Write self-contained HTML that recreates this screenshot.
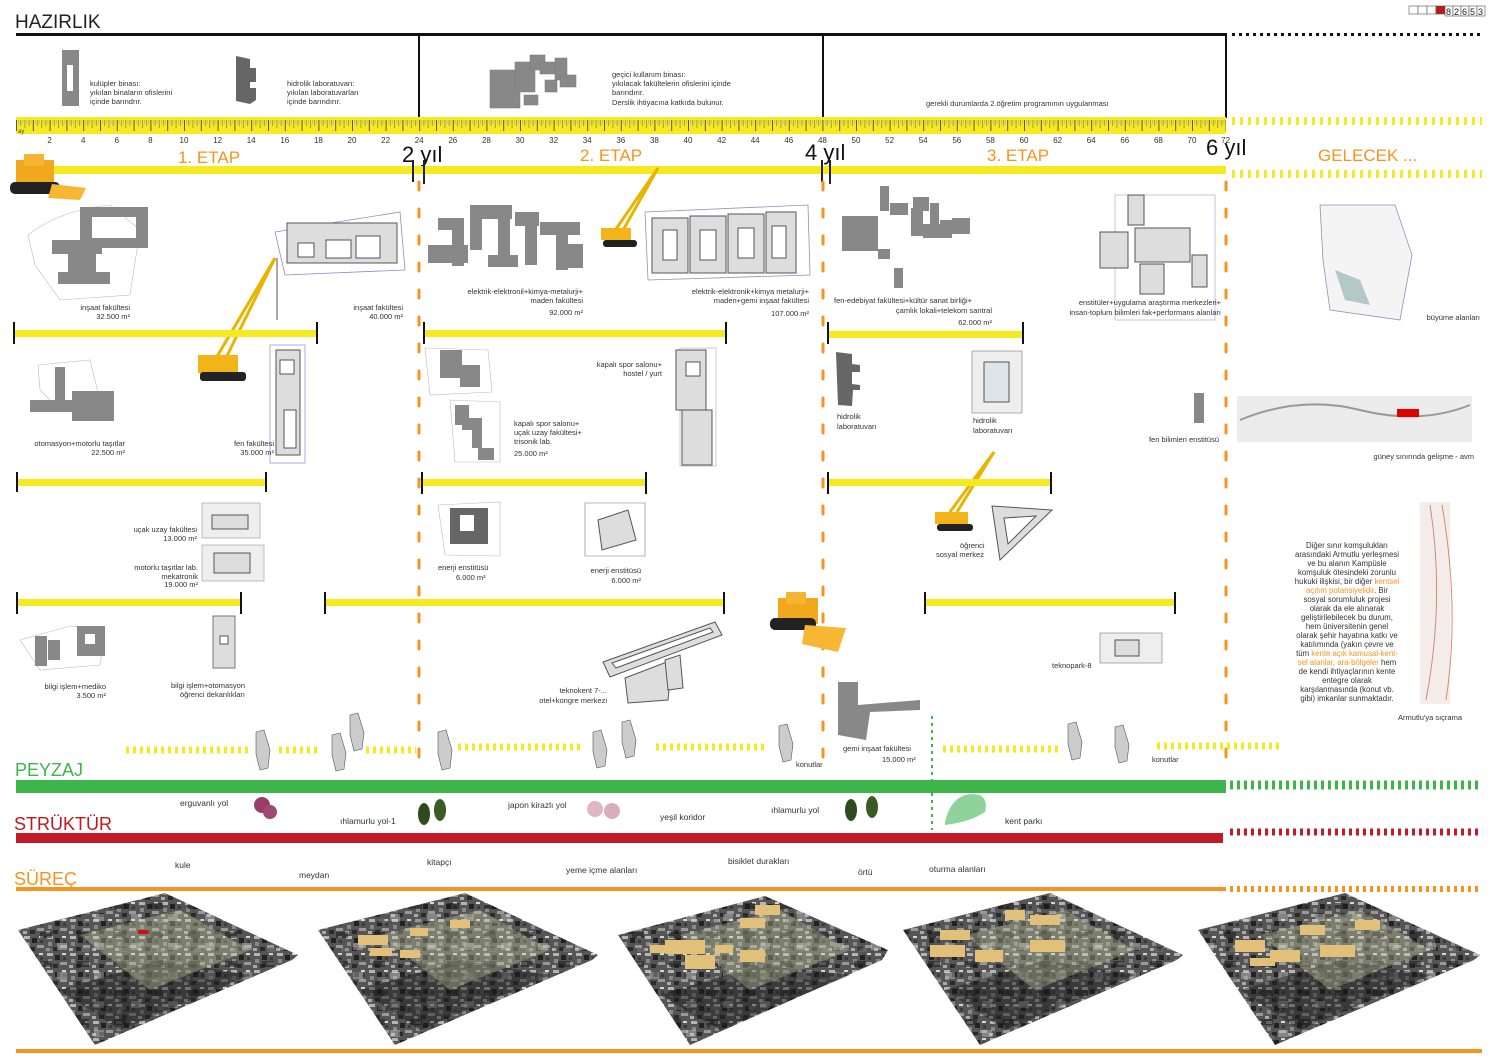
<!DOCTYPE html>
<html><head><meta charset="utf-8"><style>
html,body{margin:0;padding:0;background:#fff}
svg{display:block}
text{font-family:"Liberation Sans",sans-serif;fill:#333}
.s{font-size:7.5px}
.n{font-size:8px;fill:#444}
.e{font-size:17px;fill:#f7931e}
.y{font-size:22px;fill:#111}
.g{fill:#888;stroke:#777;stroke-width:.5}
.ln{fill:none;stroke:#bbb;stroke-width:.6}
</style></head><body>
<svg width="1500" height="1061" viewBox="0 0 1500 1061" xmlns="http://www.w3.org/2000/svg">
<defs>
<pattern id="tk" x="16" y="0" width="16.8" height="20" patternUnits="userSpaceOnUse">
<rect width="16.8" height="20" fill="#f5ea1f"/>
<line x1="0.5" y1="0" x2="0.5" y2="11" stroke="#555" stroke-width="1"/>
<line x1="4.7" y1="0" x2="4.7" y2="6" stroke="#777" stroke-width=".7"/>
<line x1="8.9" y1="0" x2="8.9" y2="8" stroke="#777" stroke-width=".7"/>
<line x1="13.1" y1="0" x2="13.1" y2="6" stroke="#777" stroke-width=".7"/>
<line x1="2.6" y1="0" x2="2.6" y2="4" stroke="#999" stroke-width=".5"/>
<line x1="6.8" y1="0" x2="6.8" y2="4" stroke="#999" stroke-width=".5"/>
<line x1="11" y1="0" x2="11" y2="4" stroke="#999" stroke-width=".5"/>
<line x1="15.2" y1="0" x2="15.2" y2="4" stroke="#999" stroke-width=".5"/>
</pattern>
<pattern id="ph" width="23" height="17" patternUnits="userSpaceOnUse">
<rect width="23" height="17" fill="#555"/>
<rect x="1" y="1" width="6" height="3" fill="#b5b5b5"/>
<rect x="9" y="3" width="5" height="5" fill="#222"/>
<rect x="2" y="7" width="4" height="4" fill="#888"/>
<rect x="16" y="1" width="4" height="2" fill="#d5d5d5"/>
<rect x="14" y="10" width="7" height="3" fill="#999"/>
<rect x="7" y="12" width="5" height="4" fill="#2a2a2a"/>
<rect x="17" y="5" width="3" height="3" fill="#3a3a3a"/>
<rect x="0" y="13" width="4" height="3" fill="#aaa"/>
</pattern>
<pattern id="ph2" width="37" height="29" patternUnits="userSpaceOnUse">
<rect x="3" y="4" width="12" height="6" fill="#151515" opacity=".5"/>
<rect x="20" y="15" width="10" height="7" fill="#ddd" opacity=".35"/>
<rect x="8" y="20" width="8" height="4" fill="#777" opacity=".5"/>
</pattern>
</defs>

<g stroke="#555" stroke-width=".6" fill="#fff">
<rect x="1409" y="6" width="9" height="8"/><rect x="1418" y="6" width="9" height="8"/><rect x="1427" y="6" width="9" height="8"/>
<rect x="1436" y="6" width="9" height="8" fill="#c4161c"/>
<rect x="1445" y="6" width="8" height="10"/><rect x="1453" y="6" width="8" height="10"/><rect x="1461" y="6" width="8" height="10"/><rect x="1469" y="6" width="8" height="10"/><rect x="1477" y="6" width="8" height="10"/>
</g>
<text x="1446" y="15" style="font-size:9px;fill:#222">8</text><text x="1454" y="15" style="font-size:9px;fill:#222">2</text><text x="1462" y="15" style="font-size:9px;fill:#222">6</text><text x="1470" y="15" style="font-size:9px;fill:#222">5</text><text x="1478" y="15" style="font-size:9px;fill:#222">3</text>

<text x="15" y="28" style="font-size:19px;fill:#222">HAZIRLIK</text>
<rect x="16" y="33" width="1211" height="3" fill="#111"/>
<line x1="1232" y1="34.5" x2="1482" y2="34.5" stroke="#111" stroke-width="3" stroke-dasharray="3,4"/>
<rect x="418" y="35" width="2" height="83" fill="#111"/>
<rect x="822" y="35" width="2" height="83" fill="#111"/>
<rect x="1225" y="35" width="2" height="83" fill="#111"/>

<rect x="62" y="50" width="17" height="56" fill="#888"/><rect x="67" y="65" width="6" height="26" fill="#fff"/>
<text class="s" x="90" y="86">kulüpler binası:</text><text class="s" x="90" y="95">yıkılan binaların ofislerini</text><text class="s" x="90" y="104">içinde barındrır.</text>
<path d="M236 56 L250 59 L250 68 L256 68 L256 82 L250 82 L250 88 L256 88 L256 100 L250 104 L236 101 Z" fill="#666"/>
<text class="s" x="287" y="86">hidrolik laboratuvarı:</text><text class="s" x="287" y="95">yıkılan laboratuvarları</text><text class="s" x="287" y="104">içinde barındırır.</text>
<g class="g"><rect x="490" y="70" width="30" height="38"/><rect x="515" y="62" width="20" height="30"/><rect x="530" y="55" width="15" height="15"/><rect x="540" y="62" width="20" height="12"/><rect x="555" y="58" width="12" height="22"/><rect x="560" y="75" width="16" height="12"/><rect x="545" y="80" width="12" height="12"/><rect x="524" y="95" width="14" height="10"/></g>
<text class="s" x="612" y="77">geçici kullanım binası:</text><text class="s" x="612" y="86">yıkılacak fakültelerin ofislerini içinde</text><text class="s" x="612" y="95">barındırır.</text><text class="s" x="612" y="105">Derslik ihtiyacına katkıda bulunur.</text>
<text class="s" x="926" y="106">gerekli durumlarda 2.öğretim programının uygulanması</text>

<rect x="16" y="117" width="1210" height="17" fill="url(#tk)"/>
<line x1="1232" y1="121" x2="1482" y2="121" stroke="#f5ea1f" stroke-width="8" stroke-dasharray="3,5"/>
<text class="n" x="18" y="133" style="font-size:6px">ay</text>
<g class="n" text-anchor="middle">
<text x="49.6" y="143">2</text><text x="83.2" y="143">4</text><text x="116.8" y="143">6</text><text x="150.4" y="143">8</text><text x="184" y="143">10</text><text x="217.6" y="143">12</text><text x="251.2" y="143">14</text><text x="284.8" y="143">16</text><text x="318.4" y="143">18</text><text x="352" y="143">20</text><text x="385.6" y="143">22</text><text x="419.2" y="143">24</text><text x="452.8" y="143">26</text><text x="486.4" y="143">28</text><text x="520" y="143">30</text><text x="553.6" y="143">32</text><text x="587.2" y="143">34</text><text x="620.8" y="143">36</text><text x="654.4" y="143">38</text><text x="688" y="143">40</text><text x="721.6" y="143">42</text><text x="755.2" y="143">44</text><text x="788.8" y="143">46</text><text x="822.4" y="143">48</text><text x="856" y="143">50</text><text x="889.6" y="143">52</text><text x="923.2" y="143">54</text><text x="956.8" y="143">56</text><text x="990.4" y="143">58</text><text x="1024" y="143">60</text><text x="1057.6" y="143">62</text><text x="1091.2" y="143">64</text><text x="1124.8" y="143">66</text><text x="1158.4" y="143">68</text><text x="1192" y="143">70</text><text x="1225.6" y="143">72</text>
</g>

<text class="e" x="178" y="163">1. ETAP</text>
<text class="e" x="580" y="161">2. ETAP</text>
<text class="e" x="987" y="161">3. ETAP</text>
<text class="e" x="1318" y="161">GELECEK ...</text>
<text class="y" x="402" y="162">2 yıl</text>
<text class="y" x="805" y="160">4 yıl</text>
<text class="y" x="1206" y="155">6 yıl</text>
<rect x="16" y="166" width="1210" height="8" fill="#f5ea1f"/>
<line x1="1232" y1="174" x2="1482" y2="174" stroke="#f5ea1f" stroke-width="8" stroke-dasharray="3,5"/>
<rect x="412" y="160" width="2" height="22" fill="#222"/><rect x="423" y="160" width="2" height="24" fill="#222"/>
<rect x="821" y="160" width="2" height="22" fill="#222"/><rect x="829" y="160" width="2" height="24" fill="#222"/>

<g stroke="#f7931e" stroke-width="3" stroke-dasharray="8,19" stroke-linecap="round">
<line x1="419" y1="182" x2="419" y2="772"/><line x1="823" y1="182" x2="823" y2="772"/><line x1="1226" y1="182" x2="1226" y2="772"/>
</g>

<g><rect x="16" y="160" width="38" height="26" fill="#f2a81d"/><rect x="24" y="154" width="20" height="12" fill="#f5b531"/><rect x="10" y="182" width="50" height="12" rx="5" fill="#222"/><polygon points="52,184 86,188 80,200 48,198" fill="#f7b733"/></g>
<g><rect x="778" y="598" width="40" height="26" fill="#f2a81d"/><rect x="786" y="592" width="20" height="12" fill="#f5b531"/><rect x="770" y="618" width="46" height="12" rx="5" fill="#222"/><polygon points="805,625 846,628 838,652 802,644" fill="#f7b733"/></g>
<g stroke="#e8b400" stroke-width="3" fill="none"><line x1="215" y1="360" x2="275" y2="258"/><line x1="225" y1="360" x2="275" y2="258"/><line x1="277" y1="258" x2="277" y2="320" stroke="#555" stroke-width="1"/></g>
<rect x="198" y="355" width="40" height="18" fill="#f2b418"/><rect x="200" y="372" width="46" height="9" rx="3" fill="#222"/>
<g stroke="#e8b400" stroke-width="3"><line x1="614" y1="232" x2="658" y2="168"/><line x1="622" y1="232" x2="658" y2="168"/></g>
<rect x="601" y="228" width="30" height="12" fill="#f2b418"/><rect x="603" y="240" width="34" height="7" rx="3" fill="#222"/>
<g stroke="#e8b400" stroke-width="3"><line x1="950" y1="512" x2="994" y2="452"/><line x1="957" y1="512" x2="994" y2="452"/></g>
<rect x="935" y="512" width="33" height="12" fill="#f2b418"/><rect x="937" y="524" width="36" height="7" rx="3" fill="#222"/>

<path class="ln" d="M28 235 Q60 210 110 205 L140 230 L130 295 L60 300 L35 265 Z"/>
<g fill="#888"><rect x="80" y="207" width="68" height="10"/><rect x="80" y="207" width="12" height="40"/><rect x="136" y="207" width="12" height="40"/><rect x="80" y="238" width="68" height="10"/><rect x="52" y="240" width="50" height="14"/><rect x="68" y="254" width="28" height="18"/><rect x="58" y="272" width="52" height="12"/></g>
<text class="s" x="130" y="310" text-anchor="end">inşaat fakültesi</text><text class="s" x="130" y="319" text-anchor="end">32.500 m²</text>
<path d="M275 232 L400 212 L405 270 L285 275 Z" fill="none" stroke="#8c8ccc" stroke-width=".8"/>
<rect x="287" y="223" width="110" height="40" fill="#ddd" stroke="#555"/><rect x="298" y="243" width="16" height="14" fill="#fff" stroke="#555"/><rect x="326" y="240" width="25" height="18" fill="#fff" stroke="#555"/><rect x="356" y="236" width="24" height="22" fill="#fff" stroke="#555"/>
<text class="s" x="403" y="310" text-anchor="end">inşaat fakültesi</text><text class="s" x="403" y="319" text-anchor="end">40.000 m²</text>
<rect x="14" y="330" width="303" height="7" fill="#f5ea1f"/><rect x="13" y="322" width="2" height="22" fill="#111"/><rect x="316" y="322" width="2" height="22" fill="#111"/>
<path class="ln" d="M38 365 L90 360 L100 400 L60 410 L40 390Z"/>
<g fill="#888"><rect x="55" y="367" width="10" height="40"/><rect x="30" y="400" width="45" height="12"/><rect x="72" y="391" width="42" height="30"/></g>
<text class="s" x="125" y="446" text-anchor="end">otomasyon+motorlu taşıtlar</text><text class="s" x="125" y="455" text-anchor="end">22.500 m²</text>
<rect x="270" y="345" width="35" height="118" fill="none" stroke="#8c8ccc" stroke-width=".7"/>
<rect x="276" y="350" width="24" height="105" fill="#ddd" stroke="#555"/><rect x="280" y="360" width="14" height="14" fill="#fff" stroke="#555"/><rect x="284" y="410" width="12" height="38" fill="#fff" stroke="#555"/>
<text class="s" x="274" y="446" text-anchor="end">fen fakültesi</text><text class="s" x="274" y="455" text-anchor="end">35.000 m²</text>
<rect x="16" y="479" width="251" height="7" fill="#f5ea1f"/><rect x="16" y="472" width="2" height="20" fill="#111"/><rect x="265" y="472" width="2" height="20" fill="#111"/>
<rect x="202" y="503" width="58" height="35" fill="#eee" stroke="#999" stroke-width=".6"/><rect x="212" y="515" width="36" height="14" fill="#ddd" stroke="#555"/>
<text class="s" x="197" y="532" text-anchor="end">uçak uzay fakültesi</text><text class="s" x="197" y="541" text-anchor="end">13.000 m²</text>
<rect x="202" y="545" width="62" height="36" fill="#eee" stroke="#999" stroke-width=".6"/><rect x="214" y="553" width="36" height="20" fill="#ddd" stroke="#555"/>
<text class="s" x="198" y="570" text-anchor="end">motorlu taşıtlar lab.</text><text class="s" x="198" y="579" text-anchor="end">mekatronik</text><text class="s" x="198" y="587" text-anchor="end">19.000 m²</text>
<rect x="16" y="599" width="226" height="7" fill="#f5ea1f"/><rect x="16" y="592" width="2" height="22" fill="#111"/><rect x="240" y="592" width="2" height="22" fill="#111"/>
<rect x="325" y="599" width="400" height="7" fill="#f5ea1f"/><rect x="324" y="592" width="2" height="22" fill="#111"/><rect x="723" y="592" width="2" height="22" fill="#111"/>
<path class="ln" d="M20 640 L70 626 L105 630 L100 665 L40 670Z"/>
<g fill="#888"><rect x="35" y="636" width="12" height="30"/><rect x="48" y="640" width="12" height="20"/><rect x="77" y="626" width="28" height="30"/></g><rect x="85" y="634" width="10" height="10" fill="#fff"/>
<text class="s" x="106" y="689" text-anchor="end">bilgi işlem+mediko</text><text class="s" x="106" y="698" text-anchor="end">3.500 m²</text>
<rect x="213" y="616" width="22" height="52" fill="#ddd" stroke="#777"/><rect x="220" y="636" width="8" height="8" fill="#fff" stroke="#555"/>
<text class="s" x="245" y="688" text-anchor="end">bilgi işlem+otomasyon</text><text class="s" x="245" y="697" text-anchor="end">öğrenci dekanlıkları</text>

<g fill="#888"><rect x="438" y="218" width="25" height="12"/><rect x="452" y="218" width="12" height="48"/><rect x="428" y="245" width="40" height="18"/><rect x="470" y="205" width="12" height="45"/><rect x="482" y="205" width="30" height="14"/><rect x="498" y="215" width="12" height="50"/><rect x="515" y="212" width="24" height="14"/><rect x="525" y="220" width="12" height="45"/><rect x="540" y="222" width="40" height="13"/><rect x="556" y="232" width="12" height="38"/><rect x="565" y="244" width="18" height="24"/><rect x="488" y="255" width="30" height="12"/></g>
<text class="s" x="583" y="294" text-anchor="end">elektrik-elektronil+kimya-metalurji+</text><text class="s" x="583" y="303" text-anchor="end">maden fakültesi</text><text class="s" x="583" y="315" text-anchor="end">92.000 m²</text>
<path d="M645 212 L808 205 L810 275 L648 280Z" fill="none" stroke="#9a8cbc" stroke-width=".8"/>
<g fill="#ddd" stroke="#555"><rect x="652" y="218" width="36" height="55"/><rect x="690" y="216" width="36" height="57"/><rect x="728" y="214" width="36" height="59"/><rect x="766" y="212" width="30" height="61"/></g>
<g fill="#fff" stroke="#555"><rect x="663" y="230" width="14" height="30"/><rect x="700" y="230" width="16" height="30"/><rect x="738" y="228" width="16" height="30"/><rect x="772" y="226" width="14" height="32"/></g>
<text class="s" x="809" y="294" text-anchor="end">elektrik-elektronik+kimya metalurji+</text><text class="s" x="809" y="303" text-anchor="end">maden+gemi inşaat fakültesi</text><text class="s" x="809" y="316" text-anchor="end">107.000 m²</text>
<rect x="424" y="330" width="302" height="7" fill="#f5ea1f"/><rect x="423" y="322" width="2" height="22" fill="#111"/><rect x="725" y="322" width="2" height="22" fill="#111"/>
<g fill="#888"><rect x="440" y="350" width="22" height="28"/><rect x="460" y="365" width="20" height="22"/><rect x="455" y="405" width="14" height="20"/><rect x="462" y="418" width="20" height="12"/><rect x="472" y="428" width="10" height="20"/><rect x="478" y="448" width="16" height="12"/></g>
<path class="ln" d="M425 348 L488 350 L492 392 L430 395Z M450 400 L500 402 L500 462 L455 462Z"/>
<text class="s" x="662" y="367" text-anchor="end">kapalı spor salonu+</text><text class="s" x="662" y="376" text-anchor="end">hostel / yurt</text>
<text class="s" x="514" y="426">kapalı spor salonu+</text><text class="s" x="514" y="435">uçak uzay fakültesi+</text><text class="s" x="514" y="444">trisonik lab.</text><text class="s" x="514" y="456">25.000 m²</text>
<rect x="680" y="348" width="36" height="118" fill="none" stroke="#aaa" stroke-width=".6"/><rect x="676" y="350" width="30" height="60" fill="#ddd" stroke="#555"/><rect x="682" y="410" width="30" height="55" fill="#ddd" stroke="#555"/><rect x="686" y="362" width="14" height="14" fill="#fff" stroke="#555"/>
<rect x="422" y="479" width="224" height="7" fill="#f5ea1f"/><rect x="421" y="472" width="2" height="22" fill="#111"/><rect x="645" y="472" width="2" height="22" fill="#111"/>
<path class="ln" d="M438 505 L500 502 L500 556 L445 555Z"/><rect x="450" y="508" width="38" height="36" fill="#666"/><rect x="460" y="515" width="14" height="16" fill="#fff"/>
<text class="s" x="438" y="570">enerji enstitüsü</text><text class="s" x="456" y="580">6.000 m²</text>
<path d="M585 503 L645 503 L645 556 L585 556Z" fill="none" stroke="#777" stroke-width=".6"/><path d="M598 520 L628 510 L636 540 L602 550Z" fill="#ddd" stroke="#555"/>
<text class="s" x="641" y="573" text-anchor="end">enerji enstitüsü</text><text class="s" x="641" y="583" text-anchor="end">6.000 m²</text>
<path d="M603 662 L715 622 L722 635 L610 677Z" fill="#ddd" stroke="#555"/><path d="M612 663 L710 628 L713 632 L616 668Z" fill="#fff" stroke="#555"/>
<path d="M625 678 L672 660 L668 700 L628 703Z" fill="#ddd" stroke="#555"/><path d="M665 660 L680 655 L683 688 L668 690Z" fill="#ddd" stroke="#555"/>
<text class="s" x="607" y="693" text-anchor="end">teknokent 7-...</text><text class="s" x="607" y="703" text-anchor="end">otel+kongre merkezi</text>

<g fill="#888"><rect x="842" y="216" width="22" height="35"/><rect x="858" y="216" width="20" height="35"/><rect x="880" y="186" width="9" height="25"/><rect x="890" y="203" width="18" height="12"/><rect x="913" y="197" width="16" height="14"/><rect x="911" y="208" width="12" height="28"/><rect x="930" y="203" width="9" height="22"/><rect x="923" y="224" width="18" height="14"/><rect x="940" y="220" width="12" height="18"/><rect x="952" y="218" width="18" height="16"/><rect x="878" y="249" width="12" height="10"/><rect x="894" y="268" width="9" height="20"/></g>
<text class="s" x="834" y="303">fen-edebiyat fakültesi+kültür sanat birliği+</text><text class="s" x="992" y="313" text-anchor="end">çamlık lokali+telekom santral</text><text class="s" x="992" y="325" text-anchor="end">62.000 m²</text>
<rect x="828" y="331" width="196" height="7" fill="#f5ea1f"/><rect x="827" y="322" width="2" height="22" fill="#111"/><rect x="1022" y="322" width="2" height="22" fill="#111"/>
<path d="M836 352 L852 354 L852 364 L860 365 L860 372 L852 372 L852 384 L860 385 L860 390 L853 390 L852 406 L838 405Z" fill="#666"/>
<text class="s" x="837" y="419">hidrolik</text><text class="s" x="837" y="429">laboratuvarı</text>
<rect x="972" y="351" width="50" height="62" fill="#eee" stroke="#777" stroke-width=".6"/><rect x="984" y="362" width="25" height="40" fill="#dde4ea" stroke="#555"/>
<text class="s" x="973" y="423">hidrolik</text><text class="s" x="973" y="433">laboratuvarı</text>
<rect x="828" y="479" width="224" height="7" fill="#f5ea1f"/><rect x="827" y="472" width="2" height="22" fill="#111"/><rect x="1050" y="472" width="2" height="22" fill="#111"/>
<path d="M992 506 L1052 510 L1000 560Z" fill="#ddd" stroke="#555"/><path d="M1004 518 L1036 516 L1008 544Z" fill="#fff" stroke="#555"/>
<text class="s" x="960" y="548">öğrenci</text><text class="s" x="936" y="557">sosyal merkez</text>
<rect x="926" y="599" width="250" height="7" fill="#f5ea1f"/><rect x="924" y="592" width="2" height="22" fill="#111"/><rect x="1174" y="592" width="2" height="22" fill="#111"/>
<rect x="1100" y="633" width="62" height="30" fill="#eee" stroke="#777" stroke-width=".6"/><rect x="1115" y="640" width="24" height="16" fill="#ddd" stroke="#555"/>
<text class="s" x="1052" y="668">teknopark-8</text>
<path d="M838 682 L858 682 L858 705 L920 700 L920 710 L870 712 L866 740 L838 735Z" fill="#888"/>
<text class="s" x="843" y="751">gemi inşaat fakültesi</text><text class="s" x="882" y="762">15.000 m²</text>
<rect x="1115" y="195" width="100" height="125" fill="none" stroke="#8c8ccc" stroke-width=".5"/>
<g fill="#ddd" stroke="#555"><rect x="1128" y="195" width="16" height="30"/><rect x="1100" y="232" width="28" height="36"/><rect x="1135" y="228" width="55" height="34"/><rect x="1140" y="264" width="24" height="30"/><rect x="1192" y="255" width="15" height="32"/></g>
<text class="s" x="1221" y="305" text-anchor="end">enstitüler+uygulama araştırma merkezleri+</text><text class="s" x="1221" y="315" text-anchor="end">insan-toplum bilimleri fak+performans alanları</text>
<rect x="1194" y="393" width="10" height="30" fill="#888"/>
<text class="s" x="1219" y="442" text-anchor="end">fen bilimleri enstitüsü</text>

<path d="M1320 205 L1395 205 L1412 255 L1400 320 L1330 310 L1323 260Z" fill="#f4f4f4" stroke="#9a8cbc" stroke-width=".8"/>
<path d="M1335 270 L1360 280 L1370 305 L1345 300Z" fill="#8aa" opacity=".6"/>
<text class="s" x="1480" y="320" text-anchor="end">büyüme alanları</text>
<rect x="1237" y="396" width="235" height="46" fill="#ececec"/>
<path d="M1240 420 Q1300 395 1360 410 Q1420 425 1470 405" fill="none" stroke="#999" stroke-width="2"/>
<rect x="1397" y="409" width="22" height="8" fill="#e00000"/>
<text class="s" x="1474" y="459" text-anchor="end">güney sınırında gelişme - avm</text>
<rect x="1420" y="502" width="30" height="202" fill="#f3ece8"/>
<path d="M1430 505 Q1445 600 1426 700 M1442 505 Q1460 610 1446 700" fill="none" stroke="#d48a7a" stroke-width="1"/>
<g class="s" text-anchor="middle" style="font-size:7.8px">
<text x="1347" y="548">Diğer sınır komşulukları</text>
<text x="1347" y="557">arasındaki Armutlu yerleşmesi</text>
<text x="1347" y="566">ve bu alanın Kampüsle</text>
<text x="1347" y="575">komşuluk ötesindeki zorunlu</text>
<text x="1347" y="584">hukuki ilişkisi, bir diğer <tspan style="fill:#f7931e">kentsel</tspan></text>
<text x="1347" y="593" style="fill:#f7931e">açılım potansiyelidir<tspan style="fill:#333">. Bir</tspan></text>
<text x="1347" y="602">sosyal sorumluluk projesi</text>
<text x="1347" y="611">olarak da ele alınarak</text>
<text x="1347" y="620">geliştirilebilecek bu durum,</text>
<text x="1347" y="629">hem üniversitenin genel</text>
<text x="1347" y="638">olarak şehir hayatına katkı ve</text>
<text x="1347" y="647">katılımında (yakın çevre ve</text>
<text x="1347" y="656">tüm <tspan style="fill:#f7931e">kente açık kamusal-kent-</tspan></text>
<text x="1347" y="665"><tspan style="fill:#f7931e">sel alanlar, ara-bölgeler</tspan> hem</text>
<text x="1347" y="674">de kendi ihtiyaçlarının kente</text>
<text x="1347" y="683">entegre olarak</text>
<text x="1347" y="692">karşılanmasında (konut vb.</text>
<text x="1347" y="701">gibi) imkanlar sunmaktadır.</text>
</g>
<text class="s" x="1462" y="720" text-anchor="end">Armutlu'ya sıçrama</text>

<g stroke="#f5ea1f" stroke-width="7" stroke-dasharray="3,4">
<line x1="126" y1="750" x2="250" y2="750"/><line x1="279" y1="750" x2="317" y2="750"/><line x1="366" y1="750" x2="416" y2="750"/><line x1="458" y1="747" x2="582" y2="747"/><line x1="656" y1="747" x2="765" y2="747"/><line x1="943" y1="749" x2="1058" y2="749"/><line x1="1157" y1="746" x2="1280" y2="746"/>
</g>
<g fill="#ccc" stroke="#555" stroke-width=".6">
<path d="M256 732 l8 -2 l6 20 l-2 18 l-8 2 l-4 -16z"/><path d="M332 735 l8 -2 l6 20 l-2 16 l-8 2 l-4 -16z"/><path d="M350 715 l8 -2 l6 20 l-2 16 l-8 2 l-4 -16z"/>
<path d="M438 732 l8 -2 l6 20 l-2 18 l-8 2 l-4 -16z"/><path d="M593 732 l8 -2 l6 20 l-2 16 l-8 2 l-4 -16z"/><path d="M622 722 l8 -2 l6 20 l-2 16 l-8 2 l-4 -16z"/><path d="M779 726 l8 -2 l6 20 l-2 16 l-8 2 l-4 -16z"/>
<path d="M1068 724 l8 -2 l6 20 l-2 16 l-8 2 l-4 -16z"/><path d="M1115 727 l8 -2 l6 20 l-2 16 l-8 2 l-4 -16z"/>
</g>
<text class="s" x="796" y="767">konutlar</text><text class="s" x="1152" y="762">konutlar</text>
<line x1="932" y1="716" x2="932" y2="830" stroke="#3db54a" stroke-width="2" stroke-dasharray="3,4"/>

<text x="15" y="776" style="font-size:18px;fill:#3db54a">PEYZAJ</text>
<rect x="16" y="780" width="1210" height="13" fill="#3db54a"/>
<line x1="1230" y1="785" x2="1482" y2="785" stroke="#3db54a" stroke-width="9" stroke-dasharray="3,4"/>
<text class="s" x="180" y="806" style="font-size:8.5px">erguvanlı yol</text>
<circle cx="262" cy="805" r="8" fill="#9a3d6a"/><circle cx="270" cy="812" r="7" fill="#a04872"/>
<text class="s" x="340" y="824" style="font-size:8.5px">ıhlamurlu yol-1</text>
<ellipse cx="424" cy="814" rx="6" ry="11" fill="#2e4a1e"/><ellipse cx="440" cy="810" rx="6" ry="11" fill="#3a5c24"/>
<text class="s" x="508" y="808" style="font-size:8.5px">japon kirazlı yol</text>
<circle cx="595" cy="809" r="8" fill="#e0b6c2"/><circle cx="612" cy="811" r="8" fill="#d9adb9"/>
<text class="s" x="660" y="820" style="font-size:8.5px">yeşil koridor</text>
<text class="s" x="771" y="813" style="font-size:8.5px">ıhlamurlu yol</text>
<ellipse cx="851" cy="810" rx="6" ry="11" fill="#2e4a1e"/><ellipse cx="872" cy="807" rx="6" ry="11" fill="#3a5c24"/>
<path d="M945 822 Q950 800 965 795 Q990 790 985 812 Q970 822 945 825Z" fill="#8fd39a"/>
<text class="s" x="1005" y="824" style="font-size:8.5px">kent parkı</text>

<text x="14" y="830" style="font-size:18px;fill:#c4161c">STRÜKTÜR</text>
<rect x="16" y="833" width="1207" height="10" fill="#c11b2a"/>
<line x1="1230" y1="832" x2="1482" y2="832" stroke="#c11b2a" stroke-width="7" stroke-dasharray="3,4"/>

<g class="s" style="font-size:8.5px"><text x="175" y="868">kule</text><text x="299" y="878">meydan</text><text x="427" y="865">kitapçı</text><text x="566" y="873">yeme içme alanları</text><text x="728" y="864">bisiklet durakları</text><text x="858" y="875">örtü</text><text x="929" y="872">oturma alanları</text></g>
<text x="14" y="885" style="font-size:18px;fill:#f7931e">SÜREÇ</text>
<rect x="16" y="887" width="1210" height="4" fill="#f7931e"/>
<line x1="1230" y1="889" x2="1482" y2="889" stroke="#f7931e" stroke-width="6" stroke-dasharray="3,4"/>

<g id="photos">
<g fill="url(#ph)">
<polygon points="18,930 165,893 298,955 292,960 95,1045"/>
<polygon points="318,930 465,893 598,955 592,960 395,1045"/>
<polygon points="618,935 765,896 888,950 882,960 690,1045"/>
<polygon points="903,930 1050,893 1183,955 1177,960 980,1045"/>
<polygon points="1198,930 1345,893 1480,955 1474,960 1275,1045"/>
</g>
<g fill="url(#ph2)">
<polygon points="18,930 165,893 298,955 292,960 95,1045"/>
<polygon points="318,930 465,893 598,955 592,960 395,1045"/>
<polygon points="618,935 765,896 888,950 882,960 690,1045"/>
<polygon points="903,930 1050,893 1183,955 1177,960 980,1045"/>
<polygon points="1198,930 1345,893 1480,955 1474,960 1275,1045"/>
</g>
<g fill="#1a1a1a" opacity=".45">
<polygon points="60,990 160,960 250,975 120,1030"/><polygon points="360,990 460,960 550,975 420,1030"/><polygon points="660,995 760,965 850,975 720,1030"/><polygon points="945,990 1045,960 1135,975 1005,1030"/><polygon points="1240,990 1340,960 1430,975 1300,1030"/>
</g>
</g>
<g fill="#c7cfa0" opacity=".35">
<polygon points="80,935 180,910 250,950 150,990"/><polygon points="380,935 480,910 550,950 450,990"/><polygon points="680,935 780,910 850,950 750,990"/><polygon points="965,935 1065,910 1135,950 1035,990"/><polygon points="1260,935 1360,910 1430,950 1330,990"/>
</g>
<g fill="#e2c07a">
<rect x="138" y="930" width="10" height="4" fill="#d01010"/>
<rect x="358" y="935" width="30" height="10"/><rect x="370" y="948" width="22" height="8"/><rect x="410" y="928" width="18" height="8"/><rect x="450" y="920" width="20" height="8"/><rect x="400" y="950" width="20" height="8"/>
<rect x="665" y="940" width="40" height="14"/><rect x="685" y="955" width="30" height="14"/><rect x="740" y="918" width="25" height="10"/><rect x="755" y="905" width="25" height="10"/><rect x="740" y="950" width="25" height="12"/><rect x="715" y="945" width="18" height="8"/><rect x="650" y="945" width="15" height="8"/>
<rect x="940" y="930" width="30" height="10"/><rect x="930" y="945" width="35" height="12"/><rect x="975" y="950" width="28" height="12"/><rect x="1005" y="910" width="20" height="10"/><rect x="1030" y="915" width="30" height="10"/><rect x="1030" y="940" width="35" height="12"/>
<rect x="1235" y="940" width="30" height="12"/><rect x="1270" y="950" width="30" height="12"/><rect x="1300" y="925" width="25" height="10"/><rect x="1320" y="945" width="35" height="12"/><rect x="1355" y="920" width="25" height="10"/><rect x="1250" y="958" width="25" height="8"/>
</g>
<rect x="16" y="1049" width="1466" height="4" fill="#f7931e"/>
</svg>
</body></html>
